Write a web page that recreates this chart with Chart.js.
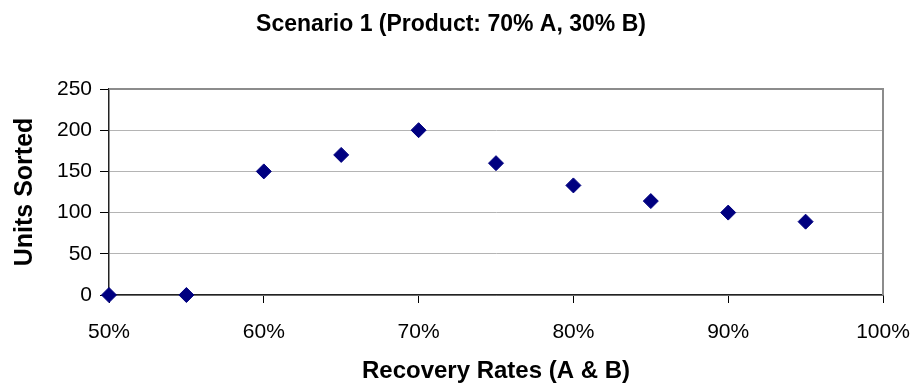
<!DOCTYPE html>
<html>
<head>
<meta charset="utf-8">
<script src="https://cdn.jsdelivr.net/npm/chart.js@4.4.1/dist/chart.umd.min.js"></script>
<style>
  html, body { margin: 0; padding: 0; background: #fff; }
  #wrap { width: 917px; height: 389px; position: relative; }
</style>
</head>
<body>
<div id="wrap"><canvas id="c" width="917" height="389"></canvas></div>
<script>
// ---- Data ----
const chartTitle = 'Scenario 1 (Product: 70% A, 30% B)';
const xAxisTitle = 'Recovery Rates (A & B)';
const yAxisTitle = 'Units Sorted';
const recoveryRates = [0.50, 0.55, 0.60, 0.65, 0.70, 0.75, 0.80, 0.85, 0.90, 0.95];
const unitsSorted   = [0, 0, 150, 170, 200, 160, 133, 114, 100, 89];
const xTickValues = [0.5, 0.6, 0.7, 0.8, 0.9, 1.0];
const yTickValues = [0, 50, 100, 150, 200, 250];

const FONT = '"Liberation Sans", Arial, Helvetica, sans-serif';
const PAD_LEFT = 19;

const frame = {
  id: 'frame',
  afterDraw(chart) {
    const { ctx, chartArea: a } = chart;
    ctx.save();
    ctx.strokeStyle = '#8c8c8c';
    ctx.lineWidth = 2;
    ctx.beginPath();
    ctx.moveTo(a.left, a.top);
    ctx.lineTo(a.right, a.top);
    ctx.lineTo(a.right, a.bottom);
    ctx.stroke();
    ctx.restore();
  }
};

new Chart(document.getElementById('c'), {
  type: 'scatter',
  data: {
    datasets: [{
      data: recoveryRates.map((x, i) => ({ x, y: unitsSorted[i] })),
      pointStyle: 'rectRot',
      pointRadius: 7.5,
      pointHoverRadius: 7.5,
      backgroundColor: '#000080',
      borderColor: '#000080',
      borderWidth: 1,
      clip: false
    }]
  },
  plugins: [frame],
  options: {
    responsive: false,
    animation: false,
    events: [],
    layout: { padding: { left: PAD_LEFT, right: 34, top: 0, bottom: 0 } },
    plugins: {
      legend: { display: false },
      tooltip: { enabled: false },
      title: {
        display: true,
        text: chartTitle,
        color: '#000',
        font: { family: FONT, size: 23, weight: 'bold', lineHeight: 1.2 },
        padding: { top: 11, bottom: 50.4 }
      }
    },
    scales: {
      x: {
        type: 'linear',
        min: 0.5,
        max: 1.0,
        afterBuildTicks(scale) { scale.ticks = xTickValues.map(v => ({ value: v })); },
        afterFit(scale) { scale.height = 94; scale.paddingLeft = 0; scale.paddingRight = 0; },
        ticks: {
          color: '#000',
          font: { family: FONT, size: 21 },
          padding: 17,
          maxRotation: 0,
          callback: v => Math.round(v * 100) + '%'
        },
        grid: { drawOnChartArea: false, drawTicks: true, tickLength: 8, tickColor: '#000' },
        border: { color: '#222', width: 1.5 },
        title: {
          display: true,
          text: xAxisTitle,
          color: '#000',
          font: { family: FONT, size: 24, weight: 'bold', lineHeight: 1.2 },
          padding: { top: 0, bottom: 3 }
        }
      },
      y: {
        type: 'linear',
        min: 0,
        max: 250,
        afterBuildTicks(scale) { scale.ticks = yTickValues.map(v => ({ value: v })); },
        afterFit(scale) { scale.width = 109 - PAD_LEFT; scale.paddingTop = 0; scale.paddingBottom = 0; },
        ticks: {
          color: '#000',
          font: { family: FONT, size: 21 },
          padding: 8
        },
        grid: { color: '#b4b4b4', lineWidth: 1, drawTicks: true, tickLength: 9, tickColor: '#000' },
        border: { color: '#222', width: 1.5 },
        title: {
          display: true,
          text: yAxisTitle,
          color: '#000',
          font: { family: FONT, size: 25, weight: 'bold', lineHeight: 1.2 },
          padding: { top: 10 - PAD_LEFT, bottom: 0 }
        }
      }
    }
  }
});
</script>
</body>
</html>
